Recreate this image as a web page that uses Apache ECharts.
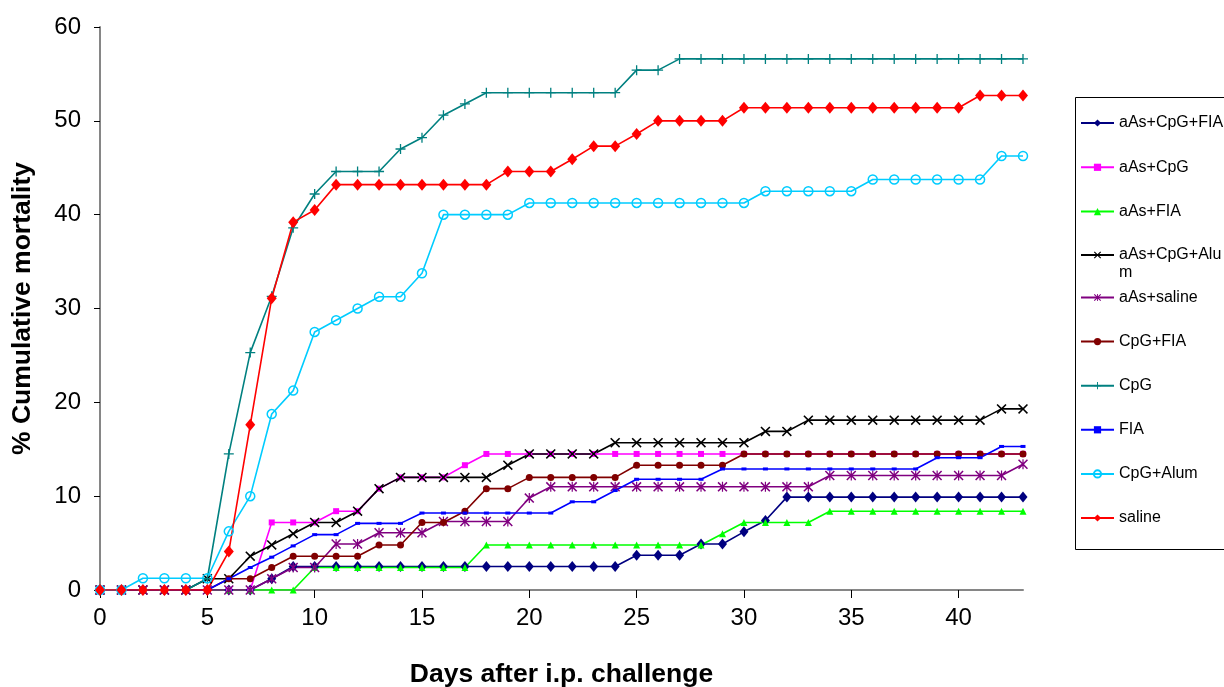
<!DOCTYPE html>
<html>
<head>
<meta charset="utf-8">
<title>Cumulative mortality</title>
<script src="https://cdn.jsdelivr.net/npm/echarts@6/dist/echarts.min.js"></script>
<style>
  html, body { margin: 0; padding: 0; background: #fff; }
</style>
</head>
<body>
<div id="main_chart" style="width: 1224px;height: 687px;"></div>
<script>
  // days after challenge (x values)
  var days = [0, 1, 2, 3, 4, 5, 6, 7, 8, 9, 10, 11, 12, 13, 14, 15, 16, 17, 18, 19, 20, 21,
    22, 23, 24, 25, 26, 27, 28, 29, 30, 31, 32, 33, 34, 35, 36, 37, 38, 39, 40, 41, 42, 43];
  var xTicks = [0, 5, 10, 15, 20, 25, 30, 35, 40];

  // % cumulative mortality per group, one value per day
  var aAsCpgFia = [0, 0, 0, 0, 0, 0, 0, 0, 1.2, 2.5, 2.5, 2.5, 2.5, 2.5, 2.5, 2.5, 2.5, 2.5, 2.5, 2.5, 2.5, 2.5,
    2.5, 2.5, 2.5, 3.7, 3.7, 3.7, 4.9, 4.9, 6.2, 7.4, 9.9, 9.9, 9.9, 9.9, 9.9, 9.9, 9.9, 9.9, 9.9, 9.9, 9.9, 9.9];
  var aAsCpg = [0, 0, 0, 0, 0, 0, 0, 0, 7.2, 7.2, 7.2, 8.4, 8.4, 10.8, 12.0, 12.0, 12.0, 13.3, 14.5, 14.5, 14.5, 14.5,
    14.5, 14.5, 14.5, 14.5, 14.5, 14.5, 14.5, 14.5, 14.5, 14.5, 14.5, 14.5, 14.5, 14.5, 14.5, 14.5, 14.5, 14.5, 14.5, 14.5, 14.5, 14.5];
  var aAsFia = [0, 0, 0, 0, 0, 0, 0, 0, 0, 0, 2.4, 2.4, 2.4, 2.4, 2.4, 2.4, 2.4, 2.4, 4.8, 4.8, 4.8, 4.8,
    4.8, 4.8, 4.8, 4.8, 4.8, 4.8, 4.8, 6.0, 7.2, 7.2, 7.2, 7.2, 8.4, 8.4, 8.4, 8.4, 8.4, 8.4, 8.4, 8.4, 8.4, 8.4];
  var aAsCpgAlum = [0, 0, 0, 0, 0, 1.2, 1.2, 3.6, 4.8, 6.0, 7.2, 7.2, 8.4, 10.8, 12.0, 12.0, 12.0, 12.0, 12.0, 13.3, 14.5, 14.5,
    14.5, 14.5, 15.7, 15.7, 15.7, 15.7, 15.7, 15.7, 15.7, 16.9, 16.9, 18.1, 18.1, 18.1, 18.1, 18.1, 18.1, 18.1, 18.1, 18.1, 19.3, 19.3];
  var aAsSaline = [0, 0, 0, 0, 0, 0, 0, 0, 1.2, 2.4, 2.4, 4.9, 4.9, 6.1, 6.1, 6.1, 7.3, 7.3, 7.3, 7.3, 9.8, 11.0,
    11.0, 11.0, 11.0, 11.0, 11.0, 11.0, 11.0, 11.0, 11.0, 11.0, 11.0, 11.0, 12.2, 12.2, 12.2, 12.2, 12.2, 12.2, 12.2, 12.2, 12.2, 13.4];
  var cpgFia = [0, 0, 0, 0, 0, 0, 1.2, 1.2, 2.4, 3.6, 3.6, 3.6, 3.6, 4.8, 4.8, 7.2, 7.2, 8.4, 10.8, 10.8, 12.0, 12.0,
    12.0, 12.0, 12.0, 13.3, 13.3, 13.3, 13.3, 13.3, 14.5, 14.5, 14.5, 14.5, 14.5, 14.5, 14.5, 14.5, 14.5, 14.5, 14.5, 14.5, 14.5, 14.5];
  var cpg = [0, 0, 0, 0, 0, 1.2, 14.5, 25.3, 31.3, 38.6, 42.2, 44.6, 44.6, 44.6, 47.0, 48.2, 50.6, 51.8, 53.0, 53.0, 53.0, 53.0,
    53.0, 53.0, 53.0, 55.4, 55.4, 56.6, 56.6, 56.6, 56.6, 56.6, 56.6, 56.6, 56.6, 56.6, 56.6, 56.6, 56.6, 56.6, 56.6, 56.6, 56.6, 56.6];
  var fia = [0, 0, 0, 0, 0, 0, 1.2, 2.4, 3.5, 4.7, 5.9, 5.9, 7.1, 7.1, 7.1, 8.2, 8.2, 8.2, 8.2, 8.2, 8.2, 8.2,
    9.4, 9.4, 10.6, 11.8, 11.8, 11.8, 11.8, 12.9, 12.9, 12.9, 12.9, 12.9, 12.9, 12.9, 12.9, 12.9, 12.9, 14.1, 14.1, 14.1, 15.3, 15.3];
  var cpgAlum = [0, 0, 1.25, 1.25, 1.25, 1.25, 6.25, 10.0, 18.75, 21.25, 27.5, 28.75, 30.0, 31.25, 31.25, 33.75, 40.0, 40.0, 40.0, 40.0, 41.25, 41.25,
    41.25, 41.25, 41.25, 41.25, 41.25, 41.25, 41.25, 41.25, 41.25, 42.5, 42.5, 42.5, 42.5, 42.5, 43.75, 43.75, 43.75, 43.75, 43.75, 43.75, 46.25, 46.25];
  var saline = [0, 0, 0, 0, 0, 0, 4.1, 17.6, 31.1, 39.2, 40.5, 43.2, 43.2, 43.2, 43.2, 43.2, 43.2, 43.2, 43.2, 44.6, 44.6, 44.6,
    45.9, 47.3, 47.3, 48.6, 50.0, 50.0, 50.0, 50.0, 51.4, 51.4, 51.4, 51.4, 51.4, 51.4, 51.4, 51.4, 51.4, 51.4, 51.4, 52.7, 52.7, 52.7];

  var font = "'Liberation Sans', Arial, sans-serif";

  // excel-like marker shapes
  var xMark = 'path://M0,1.1L1.1,0L5,3.9L8.9,0L10,1.1L6.1,5L10,8.9L8.9,10L5,6.1L1.1,10L0,8.9L3.9,5Z';
  var starMark = xMark.replace('Z', 'ZM4.4,0H5.6V10H4.4Z');
  var plusMark = 'path://M4.35,0H5.65V4.35H10V5.65H5.65V10H4.35V5.65H0V4.35H4.35Z';

  function pairs(values) {
    return values.map(function (v, i) {
      return [days[i], v];
    });
  }

  function line(name, values, color, symbol, size, extra) {
    var s = {
      name: name,
      type: 'line',
      data: pairs(values),
      symbol: symbol,
      symbolSize: size,
      color: color,
      lineStyle: { color: color, width: 1.6 },
      itemStyle: { color: color },
      emphasis: { disabled: true }
    };
    if (extra) Object.assign(s, extra);
    return s;
  }

  var legendText = { color: '#000', fontFamily: font, fontSize: 16, lineHeight: 18 };

  var chartDom = document.getElementById('main_chart');
  var myChart = echarts.init(chartDom);
  var option = {
    animation: false,
    backgroundColor: '#fff',
    grid: {
      left: 100,
      right: 201,
      top: 27,
      bottom: 97,
      containLabel: false,
      outerBoundsMode: 'none'
    },
    legend: [
      {
        data: ['aAs+CpG+FIA', 'aAs+CpG', 'aAs+FIA'],
        orient: 'vertical', left: 1080, top: 114, padding: 0,
        itemWidth: 33, itemHeight: 9, itemGap: 26.3,
        textStyle: legendText, selectedMode: false
      },
      {
        data: ['aAs+CpG+Alum'],
        orient: 'vertical', left: 1080, top: 228, padding: 0,
        itemWidth: 33, itemHeight: 9,
        // excel wraps this entry inside the narrow legend box
        formatter: function () { return '\naAs+CpG+Alu\nm'; },
        textStyle: legendText, selectedMode: false
      },
      {
        data: ['aAs+saline', 'CpG+FIA', 'CpG', 'FIA', 'CpG+Alum', 'saline'],
        orient: 'vertical', left: 1080, top: 288.5, padding: 0,
        itemWidth: 33, itemHeight: 9, itemGap: 26.1,
        textStyle: legendText, selectedMode: false
      }
    ],
    graphic: [
      {
        type: 'rect',
        left: 1073,
        top: 95,
        shape: { width: 170, height: 452 },
        style: { fill: 'none', stroke: '#000', lineWidth: 1 },
        silent: true
      }
    ],
    xAxis: {
      type: 'value',
      min: 0,
      max: 43,
      interval: 5,
      name: 'Days after i.p. challenge',
      nameLocation: 'middle',
      nameGap: 71,
      nameTextStyle: { color: '#000', fontFamily: font, fontSize: 26.5, fontWeight: 'bold' },
      axisLine: { show: true, onZero: false, lineStyle: { color: '#868686', width: 2 } },
      axisTick: { show: true, inside: false, length: 8, customValues: xTicks, lineStyle: { color: '#000' } },
      axisLabel: { margin: 16, customValues: xTicks, color: '#000', fontFamily: font, fontSize: 24 },
      splitLine: { show: false }
    },
    yAxis: {
      type: 'value',
      min: 0,
      max: 60,
      interval: 10,
      name: '% Cumulative mortality',
      nameLocation: 'middle',
      nameGap: 64,
      nameTextStyle: { color: '#000', fontFamily: font, fontSize: 26.5, fontWeight: 'bold' },
      axisLine: { show: true, lineStyle: { color: '#868686', width: 2 } },
      axisTick: { show: true, inside: false, length: 6, lineStyle: { color: '#000' } },
      axisLabel: { margin: 19, color: '#000', fontFamily: font, fontSize: 24 },
      splitLine: { show: false }
    },
    series: [
      line('aAs+CpG+FIA', aAsCpgFia, '#000080', 'diamond', [9, 11]),
      line('aAs+CpG', aAsCpg, '#FF00FF', 'rect', 6),
      line('aAs+FIA', aAsFia, '#00FF00', 'triangle', 7),
      line('aAs+CpG+Alum', aAsCpgAlum, '#000000', xMark, 10),
      line('aAs+saline', aAsSaline, '#800080', starMark, 10),
      line('CpG+FIA', cpgFia, '#800000', 'circle', 7),
      line('CpG', cpg, '#008080', plusMark, 10),
      line('FIA', fia, '#0000FF', 'rect', [5, 3]),
      line('CpG+Alum', cpgAlum, '#00CCFF', 'circle', 9, {
        itemStyle: { color: 'rgba(255,255,255,0)', borderColor: '#00CCFF', borderWidth: 1.5 }
      }),
      line('saline', saline, '#FF0000', 'diamond', [10, 12])
    ]
  };

  option && myChart.setOption(option);

  window.addEventListener('resize', function () {
    myChart.resize();
  });
</script>
</body>
</html>
